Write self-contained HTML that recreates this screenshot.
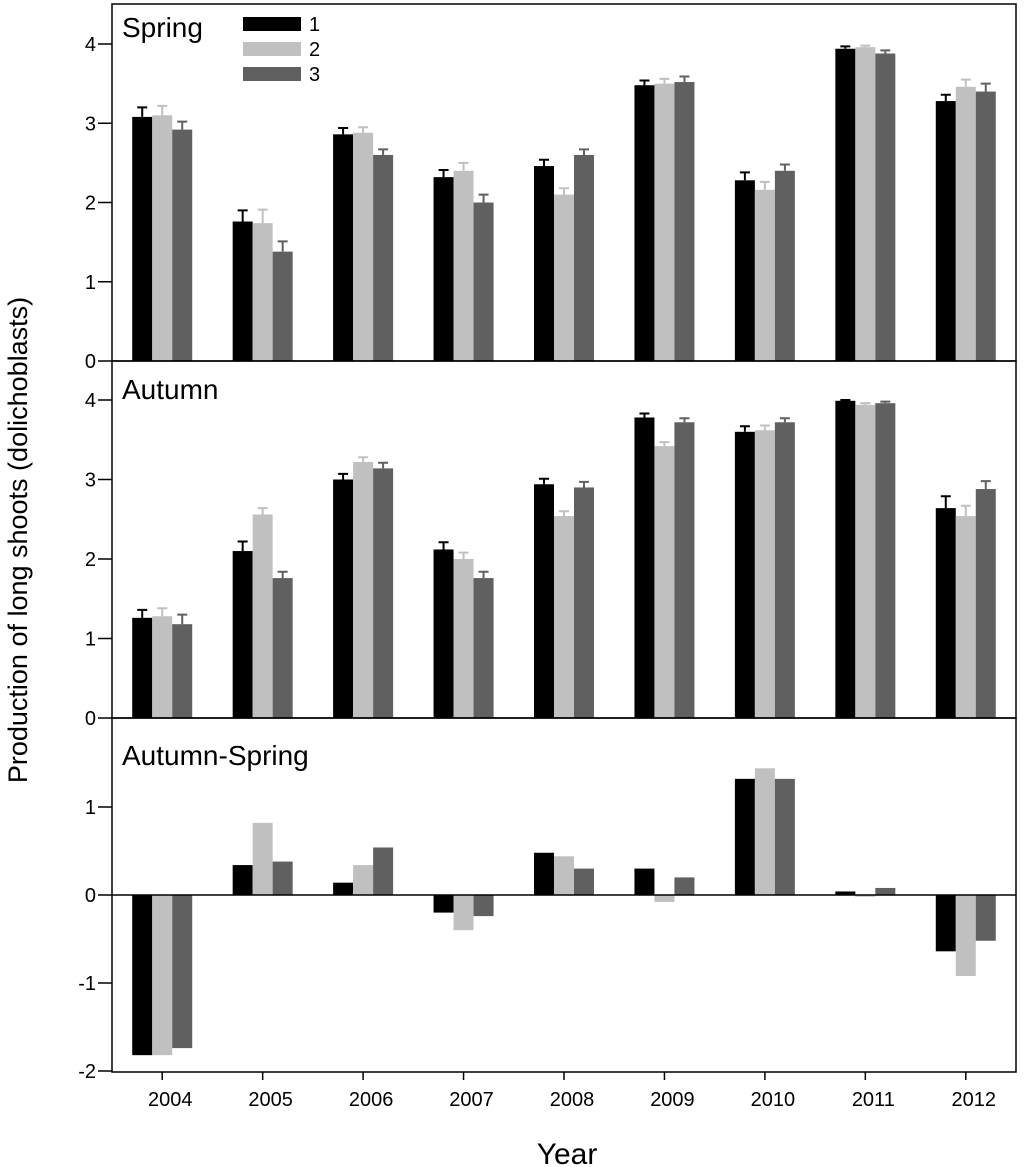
<!DOCTYPE html>
<html><head><meta charset="utf-8"><style>
html,body{margin:0;padding:0;background:#fff;}
svg{display:block;font-family:"Liberation Sans",Arial,sans-serif;}
</style></head><body>
<svg id="chart" width="1024" height="1167" viewBox="0 0 1024 1167"></svg>
<script>
const years=["2004","2005","2006","2007","2008","2009","2010","2011","2012"];
const seriesNames=["1","2","3"];
const springS1=[3.08,1.76,2.86,2.32,2.46,3.48,2.28,3.94,3.28];
const springS2=[3.10,1.74,2.88,2.40,2.10,3.50,2.16,3.96,3.46];
const springS3=[2.92,1.38,2.60,2.00,2.60,3.52,2.40,3.88,3.40];
const springE1=[0.12,0.14,0.08,0.09,0.08,0.06,0.10,0.03,0.08];
const springE2=[0.12,0.17,0.07,0.10,0.08,0.06,0.10,0.02,0.09];
const springE3=[0.10,0.13,0.07,0.10,0.07,0.07,0.08,0.04,0.10];
const autumnS1=[1.26,2.10,3.00,2.12,2.94,3.78,3.60,3.99,2.64];
const autumnS2=[1.28,2.56,3.22,2.00,2.54,3.42,3.62,3.94,2.54];
const autumnS3=[1.18,1.76,3.14,1.76,2.90,3.72,3.72,3.96,2.88];
const autumnE1=[0.10,0.12,0.07,0.09,0.07,0.05,0.07,0.01,0.15];
const autumnE2=[0.10,0.08,0.06,0.08,0.06,0.05,0.06,0.02,0.13];
const autumnE3=[0.12,0.08,0.07,0.08,0.07,0.05,0.05,0.02,0.10];
const diffS1=[-1.82,0.34,0.14,-0.20,0.48,0.30,1.32,0.04,-0.64];
const diffS2=[-1.82,0.82,0.34,-0.40,0.44,-0.08,1.44,-0.02,-0.92];
const diffS3=[-1.74,0.38,0.54,-0.24,0.30,0.20,1.32,0.08,-0.52];
const topTicks=[0,1,2,3,4];
const diffTicks=[-2,-1,0,1];

const NS="http://www.w3.org/2000/svg";
const svg=document.getElementById('chart');
const colors=["#000000","#c0c0c0","#606060"];
const L=112,R=1016,N=years.length,gw=(R-L)/N,bw=20;
function xc(i){return L+gw*(i+0.5);}
function mk(tag,attrs,parent){const e=document.createElementNS(NS,tag);for(const k in attrs)e.setAttribute(k,attrs[k]);(parent||svg).appendChild(e);return e;}
function txt(s,attrs,parent){const e=mk('text',attrs,parent);e.textContent=s;return e;}

const panels=[
 {name:"spring",title:"Spring",top:4,y0:361,y1:44,v1:4,min:0,s:[springS1,springS2,springS3],e:[springE1,springE2,springE3],ticks:topTicks},
 {name:"autumn",title:"Autumn",top:361,y0:718,y1:400,v1:4,min:0,s:[autumnS1,autumnS2,autumnS3],e:[autumnE1,autumnE2,autumnE3],ticks:topTicks},
 {name:"autumn-spring",title:"Autumn-Spring",top:718,y0:895,y1:807,v1:1,min:-2,bottom:1072,s:[diffS1,diffS2,diffS3],e:null,ticks:diffTicks}
];
panels.forEach(p=>{
 const g=mk('g',{});
 
 
 const y=v=>p.y0+(p.y1-p.y0)*v/p.v1;
 const bot=p.bottom||p.y0;
 p.s.forEach((arr,k)=>{
  arr.forEach((v,i)=>{
   const x=xc(i)-1.5*bw+k*bw;
   const yt=Math.min(y(v),y(0)),h=Math.abs(y(v)-y(0));
   const r=mk('rect',{x:x,y:yt,width:bw,height:h,fill:colors[k]},g);
   
   
   if(p.e){
    const ye=y(v+p.e[k][i]);
    const eb=mk('path',{d:`M${x+bw/2},${y(v)}V${ye}M${x+bw/2-5},${ye}H${x+bw/2+5}`,stroke:colors[k],'stroke-width':2,fill:'none'},g);
    
    
   }
  });
 });
 if(p.min<0){mk('line',{x1:L,x2:R,y1:y(0),y2:y(0),stroke:'#000','stroke-width':1.5},g);}
 mk('rect',{x:L,y:p.top,width:R-L,height:bot-p.top,fill:'none',stroke:'#000','stroke-width':1.5},g);
 p.ticks.forEach(t=>{
  mk('line',{x1:L-14,x2:L,y1:y(t),y2:y(t),stroke:'#000','stroke-width':1.5},g);
  const tl=txt(String(t),{x:L-16,y:y(t)+7,'text-anchor':'end','font-size':20},g);
  
  
 });
 const tt=txt(p.title,{x:122,y:p.name=='spring'?37:(p.name=='autumn'?399:765),'font-size':28},g);
 
 
});
years.forEach((yr,i)=>{
 mk('line',{x1:xc(i),x2:xc(i),y1:1072,y2:1080,stroke:'#000','stroke-width':1.5});
 const t=txt(yr,{x:xc(i)+8,y:1106,'text-anchor':'middle','font-size':20});
 
 
});
const lg=mk('g',{});


seriesNames.forEach((s,k)=>{
 const yy=17+k*25;
 const r=mk('rect',{x:243,y:yy,width:58,height:14,fill:colors[k]},lg);
 
 
 const t=txt(s,{x:309,y:yy+14,'font-size':20},lg);
 
 
});
const xt=txt('Year',{x:567,y:1164,'text-anchor':'middle','font-size':30});


const yt=txt('Production of long shoots (dolichoblasts)',{x:0,y:0,'text-anchor':'middle','font-size':27,transform:'translate(27,540) rotate(-90)'});


</script>
</body></html>
